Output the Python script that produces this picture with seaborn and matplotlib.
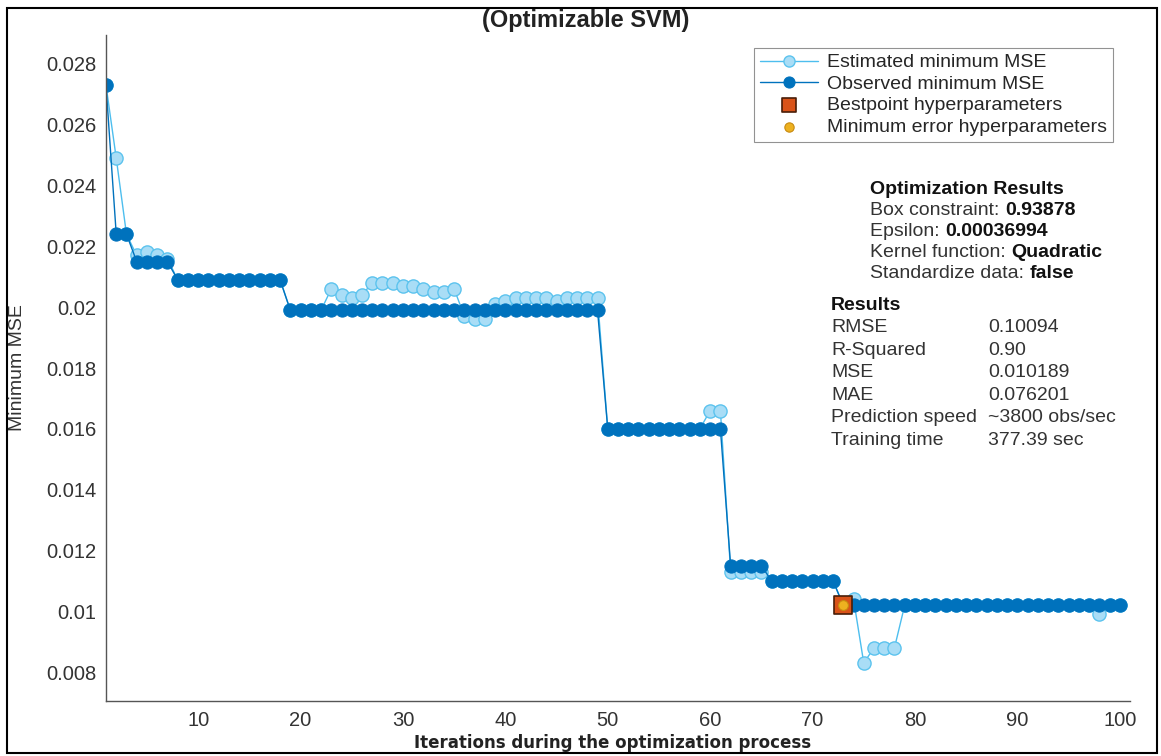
import numpy as np
import pandas as pd
import matplotlib
matplotlib.use("Agg")
import matplotlib.pyplot as plt
import seaborn as sns
from matplotlib.patches import Rectangle

iterations = list(range(1, 101))

observed_mse = [
    0.0273, 0.0224, 0.0224, 0.0215, 0.0215, 0.0215, 0.0215, 0.0209, 0.0209, 0.0209,
    0.0209, 0.0209, 0.0209, 0.0209, 0.0209, 0.0209, 0.0209, 0.0209, 0.0199, 0.0199,
    0.0199, 0.0199, 0.0199, 0.0199, 0.0199, 0.0199, 0.0199, 0.0199, 0.0199, 0.0199,
    0.0199, 0.0199, 0.0199, 0.0199, 0.0199, 0.0199, 0.0199, 0.0199, 0.0199, 0.0199,
    0.0199, 0.0199, 0.0199, 0.0199, 0.0199, 0.0199, 0.0199, 0.0199, 0.0199, 0.0160,
    0.0160, 0.0160, 0.0160, 0.0160, 0.0160, 0.0160, 0.0160, 0.0160, 0.0160, 0.0160,
    0.0160, 0.0115, 0.0115, 0.0115, 0.0115, 0.0110, 0.0110, 0.0110, 0.0110, 0.0110,
    0.0110, 0.0110, 0.0102, 0.0102, 0.0102, 0.0102, 0.0102, 0.0102, 0.0102, 0.0102,
    0.0102, 0.0102, 0.0102, 0.0102, 0.0102, 0.0102, 0.0102, 0.0102, 0.0102, 0.0102,
    0.0102, 0.0102, 0.0102, 0.0102, 0.0102, 0.0102, 0.0102, 0.0102, 0.0102, 0.0102,
]

estimated_mse = [
    0.0273, 0.0249, 0.0224, 0.0217, 0.0218, 0.0217, 0.0216, 0.0209, 0.0209, 0.0209,
    0.0209, 0.0209, 0.0209, 0.0209, 0.0209, 0.0209, 0.0209, 0.0209, 0.0199, 0.0199,
    0.0199, 0.0199, 0.0206, 0.0204, 0.0203, 0.0204, 0.0208, 0.0208, 0.0208, 0.0207,
    0.0207, 0.0206, 0.0205, 0.0205, 0.0206, 0.0197, 0.0196, 0.0196, 0.0201, 0.0202,
    0.0203, 0.0203, 0.0203, 0.0203, 0.0202, 0.0203, 0.0203, 0.0203, 0.0203, 0.0160,
    0.0160, 0.0160, 0.0160, 0.0160, 0.0160, 0.0160, 0.0160, 0.0160, 0.0160, 0.0166,
    0.0166, 0.0113, 0.0113, 0.0113, 0.0113, 0.0110, 0.0110, 0.0110, 0.0110, 0.0110,
    0.0110, 0.0110, 0.0102, 0.0104, 0.0083, 0.0088, 0.0088, 0.0088, 0.0102, 0.0102,
    0.0102, 0.0102, 0.0102, 0.0102, 0.0102, 0.0102, 0.0102, 0.0102, 0.0102, 0.0102,
    0.0102, 0.0102, 0.0102, 0.0102, 0.0102, 0.0102, 0.0102, 0.0099, 0.0102, 0.0102,
]

best_point = (73, 0.0102)
min_error_point = (73, 0.0102)

y_ticks = [0.008, 0.01, 0.012, 0.014, 0.016, 0.018, 0.02, 0.022, 0.024, 0.026, 0.028]
y_tick_labels = ["0.008", "0.01", "0.012", "0.014", "0.016", "0.018", "0.02",
                 "0.022", "0.024", "0.026", "0.028"]
x_ticks = [10, 20, 30, 40, 50, 60, 70, 80, 90, 100]

opt_labels = ["Box constraint: ", "Epsilon: ", "Kernel function: ", "Standardize data: "]
opt_values = ["0.93878", "0.00036994", "Quadratic", "false"]
res_labels = ["RMSE", "R-Squared", "MSE", "MAE", "Prediction speed", "Training time"]
res_values = ["0.10094", "0.90", "0.010189", "0.076201", "~3800 obs/sec", "377.39 sec"]

df = pd.DataFrame({
    "iteration": iterations,
    "observed": observed_mse,
    "estimated": estimated_mse,
})

sns.set_style("white")
plt.rcParams["font.family"] = ["Liberation Sans", "DejaVu Sans"]

W, H = 1161, 756
fig = plt.figure(figsize=(W / 100, H / 100), dpi=100)
ax = fig.add_axes([106 / W, 1 - 701 / H, 1024 / W, 666 / H])

light = "#4DBEEE"
dark = "#0072BD"

sns.lineplot(data=df, x="iteration", y="estimated", ax=ax, color=light,
             linewidth=1, marker="o", markersize=9.5,
             markerfacecolor="#A9DDF6", markeredgecolor="#5CC3EE",
             markeredgewidth=1, label="Estimated minimum MSE")
sns.lineplot(data=df, x="iteration", y="observed", ax=ax, color=dark,
             linewidth=1, marker="o", markersize=9.5,
             markerfacecolor=dark, markeredgecolor=dark,
             label="Observed minimum MSE")
sns.scatterplot(x=[best_point[0]], y=[best_point[1]], ax=ax, marker="s", s=150,
                color="#D95319", edgecolor="#4A1E08", linewidth=1.2,
                label="Bestpoint hyperparameters", zorder=5)
sns.scatterplot(x=[min_error_point[0]], y=[min_error_point[1]], ax=ax, marker="o",
                s=50, color="#EDB120", edgecolor="#C88A10", linewidth=0.8,
                label="Minimum error hyperparameters", zorder=6)

ax.set_xlim(1, 101)
ax.set_ylim(0.00705, 0.02895)
ax.set_xticks(x_ticks)
ax.set_yticks(y_ticks)
ax.set_yticklabels(y_tick_labels)

for side in ["top", "right"]:
    ax.spines[side].set_visible(False)
for side in ["left", "bottom"]:
    ax.spines[side].set_color("#555555")
    ax.spines[side].set_linewidth(1.0)
ax.tick_params(axis="both", direction="in", length=7, width=1, color="#555555",
               labelsize=14.5, labelcolor="#333333", pad=7)

ax.set_xlabel("Iterations during the optimization process", fontsize=12,
              fontweight="bold", family="DejaVu Sans", color="#222222",
              va="center")
ax.xaxis.set_label_coords(0.495, -0.063)
ax.set_ylabel("Minimum MSE", fontsize=14, color="#333333", va="center")
ax.yaxis.set_label_coords(-0.086, 0.5)

fig.text(586 / W, 1 - 21 / H, "(Optimizable SVM)", ha="center", va="center",
         fontsize=17, fontweight="bold", color="#222222")

leg = ax.legend(loc="upper right", bbox_to_anchor=(0.9834, 0.9805), fontsize=14,
                frameon=True, fancybox=False, edgecolor="#777777",
                handlelength=3.0, handletextpad=0.45, labelspacing=0.2,
                borderpad=0.3, borderaxespad=0)
leg.get_frame().set_linewidth(0.8)
handles = leg.legend_handles
handles[0].set_markersize(8)
handles[1].set_markersize(8)
handles[2].set_sizes([95])
handles[3].set_sizes([45])

# optimization results block
y0 = 190
fig.text(870 / W, 1 - y0 / H, "Optimization Results", ha="left", va="center",
         fontsize=14, fontweight="bold", color="#111111")
for i, (lab, val) in enumerate(zip(opt_labels, opt_values)):
    t = fig.text(870 / W, 1 - (y0 + 20.8 * (i + 1)) / H, lab, ha="left", va="center",
                 fontsize=14, color="#333333")
    ax.annotate(val, xy=(1, 0.5), xycoords=t, ha="left", va="center",
                fontsize=14, fontweight="bold", color="#111111")

y1 = 305
fig.text(831 / W, 1 - y1 / H, "Results", ha="left", va="center",
         fontsize=14, fontweight="bold", color="#111111")
for i, (lab, val) in enumerate(zip(res_labels, res_values)):
    yy = 1 - (y1 + 22.6 * (i + 1)) / H
    fig.text(831 / W, yy, lab, ha="left", va="center", fontsize=14, color="#333333")
    fig.text(988 / W, yy, val, ha="left", va="center", fontsize=14, color="#333333")

fig.patches.append(Rectangle((7 / W, 1 - 753 / H), 1150 / W, 745 / H,
                             transform=fig.transFigure, fill=False,
                             edgecolor="black", linewidth=1.5))

fig.savefig("out.png", dpi=100)
